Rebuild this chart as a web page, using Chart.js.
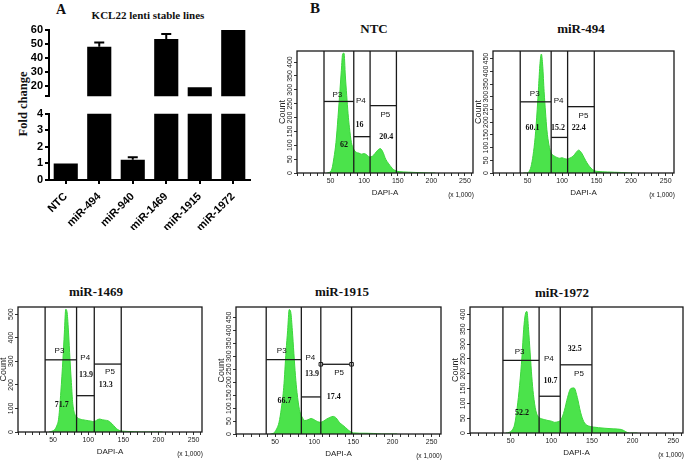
<!DOCTYPE html>
<html>
<head>
<meta charset="utf-8">
<script src="https://cdn.jsdelivr.net/npm/chart.js@4.4.1/dist/chart.umd.min.js"></script>
<style>
html, body { margin: 0; padding: 0; background: #fff; width: 685px; height: 461px; overflow: hidden; position: relative; }
canvas { position: absolute; }
.t { position: absolute; font-family: 'Liberation Serif', 'Times New Roman', serif; font-weight: bold; white-space: nowrap; line-height: 1; transform: translate(-50%, -50%); color: #111; }
</style>
</head>
<body>
<div class="t" style="left:61px;top:10px;font-size:14px">A</div>
<div class="t" style="left:148px;top:15px;font-size:11px">KCL22 lenti stable lines</div>
<div class="t" style="left:23px;top:104px;font-size:12.5px;transform:translate(-50%,-50%) rotate(-90deg)">Fold change</div>
<div class="t" style="left:315px;top:8px;font-size:15px">B</div>
<div class="t" style="left:374px;top:28px;font-size:13px">NTC</div>
<div class="t" style="left:581px;top:28px;font-size:13px">miR-494</div>
<div class="t" style="left:96px;top:291px;font-size:13px">miR-1469</div>
<div class="t" style="left:342px;top:291px;font-size:13px">miR-1915</div>
<div class="t" style="left:562px;top:292px;font-size:13px">miR-1972</div>
<canvas id="barTop" width="256" height="85" style="left:0;top:20px"></canvas>
<canvas id="barBottom" width="256" height="125" style="left:0;top:105px"></canvas>
<script>
// Panel A: qPCR fold change
const barLabels = ['NTC', 'miR-494', 'miR-940', 'miR-1469', 'miR-1915', 'miR-1972'];
const foldChange = [1.0, 48, 1.22, 53.5, 19, 60];
const foldError = [0, 3, 0.15, 3.6, 0, 0];
const lowerTicks = [0, 1, 2, 3, 4];
const upperTicks = [20, 30, 40, 50, 60];
const breakLow = 4;
const breakHigh = 12.4;

// Panel B: DAPI histograms (bin centre, x 1,000)
const dapiBins = [44, 48, 52, 55, 58, 61, 64, 66, 68, 70, 72, 74, 76, 78, 81, 84, 88, 92, 96, 100,
  104, 108, 112, 116, 120, 124, 128, 132, 136, 140, 144, 148, 152, 158, 166, 176, 186, 196, 206];
const countNTC = [0, 2, 15, 55, 110, 200, 300, 370, 430, 432, 350, 280, 215, 165, 110, 88, 75, 72, 68, 70,
  65, 58, 60, 70, 82, 88, 75, 50, 35, 22, 12, 7, 5, 4, 3, 2, 1, 0, 0];
const count494 = [0, 0, 5, 25, 70, 140, 250, 340, 430, 468, 420, 320, 240, 170, 110, 80, 68, 62, 58, 60,
  56, 55, 60, 66, 80, 90, 80, 60, 40, 25, 14, 8, 6, 5, 4, 3, 2, 0, 0];
const count1469 = [0, 3, 10, 25, 60, 170, 310, 420, 520, 505, 420, 310, 210, 120, 75, 62, 55, 52, 50, 48,
  46, 44, 50, 55, 52, 50, 48, 40, 28, 15, 7, 4, 3, 2, 1, 0, 0, 0, 0];
const count1915 = [0, 3, 20, 45, 100, 180, 320, 400, 480, 470, 400, 310, 225, 160, 95, 68, 52, 55, 60, 55,
  48, 45, 50, 58, 64, 68, 62, 45, 35, 25, 14, 6, 4, 3, 3, 2, 0, 0, 0];
const count1972 = [0, 2, 10, 30, 85, 160, 260, 350, 400, 410, 350, 270, 190, 130, 75, 55, 48, 45, 42, 40,
  36, 38, 45, 75, 120, 150, 152, 120, 70, 38, 26, 22, 20, 18, 16, 14, 12, 0, 0];

const gateNames = ['P3', 'P4', 'P5'];
const gatesNTC = [40.2, 84.5, 108.8, 148];
const gates494 = [39.4, 84.2, 108, 146.6];
const gates1469 = [38.6, 83.4, 108.6, 147];
const gates1915 = [38.6, 83.5, 108.4, 147.7];
const gates1972 = [40.5, 85, 111, 150];
const levelsNTC = [258, 131, 243];
const levels494 = [280, 140, 261];
const levels1469 = [306, 154, 288];
const levels1915 = [287, 143, 269];
const levels1972 = [245, 124, 230];
const pctNTC = ['62', '16', '20.4'];
const pct494 = ['60.1', '15.2', '22.4'];
const pct1469 = ['71.7', '13.9', '13.3'];
const pct1915 = ['66.7', '13.9', '17.4'];
const pct1972 = ['52.2', '10.7', '32.5'];
const dapiTicks = [50, 100, 150, 200, 250];

const sans = "'Liberation Sans', Arial, sans-serif";
const serif = "'Liberation Serif', 'Times New Roman', serif";
const boldAxis = { family: sans, size: 11, weight: 'bold' };

const errorBars = {
    id: 'errorBars',
    afterDatasetsDraw(chart) {
        const { ctx } = chart;
        const y = chart.scales.y;
        const meta = chart.getDatasetMeta(0);
        ctx.save();
        ctx.strokeStyle = '#000';
        ctx.lineWidth = 2;
        foldError.forEach((e, i) => {
            const v = foldChange[i];
            if (!e || v < y.min || v > y.max || !meta.data[i]) return;
            const x = meta.data[i].x;
            const y0 = y.getPixelForValue(v);
            const y1 = y.getPixelForValue(v + e);
            ctx.beginPath();
            ctx.moveTo(x, y0); ctx.lineTo(x, y1);
            ctx.moveTo(x - 5, y1); ctx.lineTo(x + 5, y1);
            ctx.stroke();
        });
        ctx.restore();
    }
};

function barYScale(min, max, ticks) {
    return {
        min, max,
        afterFit: s => { s.width = 49; },
        afterBuildTicks: s => { s.ticks = ticks.map(v => ({ value: v })); },
        ticks: { font: boldAxis, color: '#000', padding: 2, autoSkip: false, callback: v => (v === breakHigh ? '' : v) },
        grid: { drawOnChartArea: false, tickLength: 4, color: '#000', lineWidth: 2 },
        border: { color: '#000', width: 2 }
    };
}

new Chart(document.getElementById('barTop'), {
    type: 'bar',
    data: {
        labels: barLabels,
        datasets: [{
            data: foldChange.map(v => (v > breakHigh ? [breakHigh, v] : null)),
            backgroundColor: '#000', categoryPercentage: 1, barPercentage: 0.72
        }]
    },
    options: {
        responsive: false, animation: false,
        layout: { padding: { top: 10, bottom: 6, right: 6, left: 0 }, autoPadding: false },
        plugins: { legend: { display: false }, tooltip: { enabled: false } },
        scales: { x: { display: false }, y: barYScale(breakHigh, 60, [breakHigh, ...upperTicks]) }
    },
    plugins: [errorBars]
});

new Chart(document.getElementById('barBottom'), {
    type: 'bar',
    data: {
        labels: barLabels,
        datasets: [{
            data: foldChange.map(v => Math.min(v, breakLow)),
            backgroundColor: '#000', categoryPercentage: 1, barPercentage: 0.72
        }]
    },
    options: {
        responsive: false, animation: false,
        layout: { padding: { top: 7, bottom: 0, right: 6, left: 0 }, autoPadding: false },
        plugins: { legend: { display: false }, tooltip: { enabled: false } },
        scales: {
            x: {
                afterFit: s => { s.height = 50; },
                ticks: { font: boldAxis, color: '#000', minRotation: 45, maxRotation: 45, autoSkip: false, padding: 6 },
                grid: { offset: false, drawOnChartArea: false, tickLength: 4, color: '#000', lineWidth: 2 },
                border: { color: '#000', width: 2 }
            },
            y: barYScale(0, breakLow, lowerTicks)
        }
    },
    plugins: [errorBars]
});

// flow panels: frame box in page pixels, axis range, label spots in data units
const flowPanels = [
    { L: 297, T: 51, R: 473, B: 173, yMax: 440, yStep: 50, counts: countNTC, gates: gatesNTC, levels: levelsNTC, pct: pctNTC,
      pPos: [[60, 283], [95, 262], [131.6, 210]], vPos: [[70, 102], [93, 173], [133, 130]] },
    { L: 493, T: 51, R: 674, B: 173, yMax: 480, yStep: 50, counts: count494, gates: gates494, levels: levels494, pct: pct494,
      pPos: [[60.4, 310], [95, 286], [131, 227]], vPos: [[57, 179], [94, 179], [124, 179]] },
    { L: 18, T: 307, R: 202, B: 432, yMax: 530, yStep: 100, counts: count1469, gates: gates1469, levels: levels1469, pct: pct1469,
      pPos: [[59, 343], [95.7, 315], [131, 254]], vPos: [[62.4, 115], [97, 240], [125, 200]] },
    { L: 236, T: 307, R: 441, B: 434, yMax: 490, yStep: 50, counts: count1915, gates: gates1915, levels: levels1915, pct: pct1915,
      pPos: [[58.4, 322], [95, 293], [131.7, 235]], vPos: [[62, 129], [97.2, 232], [125, 144]], handles: true },
    { L: 470, T: 307, R: 683, B: 433, yMax: 425, yStep: 50, counts: count1972, gates: gates1972, levels: levels1972, pct: pct1972,
      pPos: [[61, 274], [97, 250], [134, 200]], vPos: [[64, 67], [99, 177], [129, 284]] }
];

function gateLine(points, handles) {
    return {
        data: points, borderColor: '#1a1a1a', borderWidth: 1.3, fill: false, order: 1,
        pointRadius: handles ? 2.5 : 0, pointStyle: 'rect', pointBackgroundColor: '#fff',
        pointBorderColor: '#1a1a1a', pointBorderWidth: 1
    };
}

function flowDecor(p) {
    return {
        id: 'flowDecor',
        afterDatasetsDraw(chart) {
            const { ctx, chartArea: a, scales: { x, y } } = chart;
            ctx.save();
            ctx.strokeStyle = '#1a1a1a';
            ctx.lineWidth = 1.3;
            ctx.strokeRect(a.left, a.top, a.right - a.left, a.bottom - a.top);
            ctx.fillStyle = '#111';
            ctx.textAlign = 'center';
            ctx.textBaseline = 'middle';
            ctx.font = '8px ' + sans;
            p.pPos.forEach((pos, i) => ctx.fillText(gateNames[i], x.getPixelForValue(pos[0]), y.getPixelForValue(pos[1])));
            ctx.font = 'bold 8px ' + serif;
            p.vPos.forEach((pos, i) => ctx.fillText(p.pct[i], x.getPixelForValue(pos[0]), y.getPixelForValue(pos[1])));
            ctx.font = '6.5px ' + sans;
            ctx.fillText('(x 1,000)', a.right - 12, a.bottom + 22);
            ctx.restore();
        }
    };
}

function flowChart(p) {
    const cv = document.createElement('canvas');
    cv.width = p.R - p.L + 34;
    cv.height = p.B - p.T + 34;
    cv.style.left = (p.L - 30) + 'px';
    cv.style.top = (p.T - 4) + 'px';
    document.body.appendChild(cv);

    const datasets = [];
    p.gates.forEach(g => datasets.push(gateLine([{ x: g, y: 0 }, { x: g, y: p.yMax }], false)));
    p.levels.forEach((lv, i) => datasets.push(gateLine([{ x: p.gates[i], y: lv }, { x: p.gates[i + 1], y: lv }], p.handles && i === 2)));
    datasets.push({
        data: dapiBins.map((b, i) => ({ x: b, y: p.counts[i] })),
        fill: 'origin', backgroundColor: '#4be34b', borderColor: '#3cd63c', borderWidth: 1,
        pointRadius: 0, cubicInterpolationMode: 'monotone', order: 2
    });

    new Chart(cv, {
        type: 'line',
        data: { datasets },
        options: {
            responsive: false, animation: false,
            layout: { padding: { top: 4, right: 4, left: 0, bottom: 0 }, autoPadding: false },
            plugins: { legend: { display: false }, tooltip: { enabled: false } },
            scales: {
                x: {
                    type: 'linear', min: 0, max: 262,
                    afterFit: s => { s.height = 30; },
                    ticks: {
                        stepSize: 10, includeBounds: false, autoSkip: false, minRotation: 0, maxRotation: 0,
                        font: { family: sans, size: 7 }, color: '#222', padding: 1,
                        callback: v => (dapiTicks.includes(v) ? v : '')
                    },
                    grid: { drawOnChartArea: false, tickLength: 3, color: '#333' },
                    border: { display: false },
                    title: { display: true, text: 'DAPI-A', font: { family: sans, size: 8 }, color: '#222', padding: { top: 0, bottom: 5 } }
                },
                y: {
                    min: 0, max: p.yMax,
                    afterFit: s => { s.width = 30; },
                    ticks: {
                        stepSize: p.yStep, includeBounds: false, autoSkip: false, minRotation: 90, maxRotation: 90, crossAlign: 'center',
                        font: { family: sans, size: 7 }, color: '#222', padding: -2
                    },
                    grid: { drawOnChartArea: false, tickLength: 3, color: '#333' },
                    border: { display: false },
                    title: { display: true, text: 'Count', font: { family: sans, size: 9 }, color: '#222', padding: { top: 10 } }
                }
            }
        },
        plugins: [flowDecor(p)]
    });
}

flowPanels.forEach(flowChart);
</script>
</body>
</html>
